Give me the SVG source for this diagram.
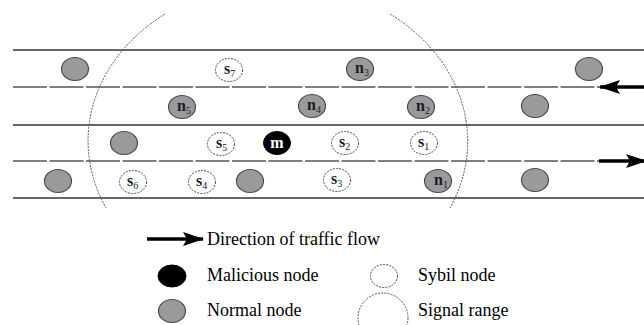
<svg xmlns="http://www.w3.org/2000/svg" width="644" height="325" viewBox="0 0 644 325">
<style>
.solid{stroke:#333;stroke-width:1.3;fill:none}
.dash{stroke:#555;stroke-width:1.3;fill:none;stroke-dasharray:34 2.5}
.normal{fill:#9a9a9a;stroke:#4a4a4a;stroke-width:1.2}
.mal{fill:#000;stroke:#000;stroke-width:1}
.sybil{fill:#fff;stroke:#444;stroke-width:1;stroke-dasharray:2 1.2}
.range{fill:none;stroke:#555;stroke-width:1;stroke-dasharray:2 1.2}
.lbl{font-family:"Liberation Serif",serif;font-size:16px;font-weight:bold;fill:#1a1a2a}
.sub{font-size:10px;font-weight:normal}
.ml{font-family:"Liberation Serif",serif;font-size:16px;font-weight:bold;fill:#fff}
.leg{font-family:"Liberation Serif",serif;font-size:18px;fill:#000}
.arrow{stroke:#000;stroke-width:3.5;fill:none}
</style>
<defs>
<marker id="ah" markerUnits="userSpaceOnUse" markerWidth="22" markerHeight="14" refX="20" refY="7" orient="auto">
<polygon points="0,0 21,7 0,14 4,7" fill="#000"/>
</marker>
</defs>
<g id="roads">
<line class="solid" x1="13" y1="50" x2="644" y2="50"/>
<line class="dash" x1="13" y1="87" x2="644" y2="87"/>
<line class="solid" x1="13" y1="125" x2="644" y2="125"/>
<line class="dash" x1="13" y1="161" x2="644" y2="161"/>
<line class="solid" x1="13" y1="198" x2="644" y2="198"/>
</g>
<g id="signal-range">
<path class="range" d="M165,14 A190,158 0 0 0 106,208"/>
<path class="range" d="M390,14 A190,158 0 0 1 450,208"/>
</g>
<g id="connectors">
<line class="arrow" x1="644" y1="87" x2="600" y2="87" marker-end="url(#ah)"/>
<line class="arrow" x1="599" y1="161" x2="646" y2="161" marker-end="url(#ah)"/>
<line class="arrow" x1="147" y1="239" x2="203" y2="239" marker-end="url(#ah)"/>
</g>
<g id="g1"><ellipse class="normal" cx="75" cy="69" rx="13.5" ry="11.5"/></g>
<g id="s7"><ellipse class="sybil" cx="229" cy="70" rx="13.5" ry="11.5"/><text class="lbl" x="224" y="74">s<tspan class="sub" dy="3">7</tspan></text></g>
<g id="n3"><ellipse class="normal" cx="360" cy="69" rx="13.5" ry="11.5"/><text class="lbl" x="355" y="73">n<tspan class="sub" dy="3">3</tspan></text></g>
<g id="g2"><ellipse class="normal" cx="589" cy="69" rx="13.5" ry="11.5"/></g>
<g id="n5"><ellipse class="normal" cx="182" cy="107" rx="13.5" ry="11.5"/><text class="lbl" x="177" y="111">n<tspan class="sub" dy="3">5</tspan></text></g>
<g id="n4"><ellipse class="normal" cx="312" cy="106" rx="13.5" ry="11.5"/><text class="lbl" x="307" y="110">n<tspan class="sub" dy="3">4</tspan></text></g>
<g id="n2"><ellipse class="normal" cx="421" cy="107" rx="13.5" ry="11.5"/><text class="lbl" x="416" y="111">n<tspan class="sub" dy="3">2</tspan></text></g>
<g id="g3"><ellipse class="normal" cx="535" cy="106" rx="13.5" ry="11.5"/></g>
<g id="g4"><ellipse class="normal" cx="124" cy="143" rx="13.5" ry="11.5"/></g>
<g id="s5"><ellipse class="sybil" cx="221" cy="144" rx="13.5" ry="11.5"/><text class="lbl" x="216" y="148">s<tspan class="sub" dy="3">5</tspan></text></g>
<g id="m"><ellipse class="mal" cx="277" cy="143" rx="13.5" ry="11.5"/><text class="ml" x="277" y="148" text-anchor="middle">m</text></g>
<g id="s2"><ellipse class="sybil" cx="345" cy="143" rx="13.5" ry="11.5"/><text class="lbl" x="339" y="147">s<tspan class="sub" dy="3">2</tspan></text></g>
<g id="s1"><ellipse class="sybil" cx="424" cy="143" rx="13.5" ry="11.5"/><text class="lbl" x="418" y="147">s<tspan class="sub" dy="3">1</tspan></text></g>
<g id="g5"><ellipse class="normal" cx="58" cy="181" rx="13.5" ry="11.5"/></g>
<g id="s6"><ellipse class="sybil" cx="133" cy="182" rx="13.5" ry="11.5"/><text class="lbl" x="127" y="186">s<tspan class="sub" dy="3">6</tspan></text></g>
<g id="s4"><ellipse class="sybil" cx="202" cy="182" rx="13.5" ry="11.5"/><text class="lbl" x="196" y="186">s<tspan class="sub" dy="3">4</tspan></text></g>
<g id="g6"><ellipse class="normal" cx="250" cy="181" rx="13.5" ry="11.5"/></g>
<g id="s3"><ellipse class="sybil" cx="337" cy="180" rx="13.5" ry="11.5"/><text class="lbl" x="331" y="184">s<tspan class="sub" dy="3">3</tspan></text></g>
<g id="n1"><ellipse class="normal" cx="438" cy="181" rx="13.5" ry="11.5"/><text class="lbl" x="434" y="185">n<tspan class="sub" dy="3">1</tspan></text></g>
<g id="g7"><ellipse class="normal" cx="535" cy="180" rx="13.5" ry="11.5"/></g>
<g id="legend">
<text class="leg" x="207" y="245">Direction of traffic flow</text>
<ellipse class="mal" cx="172" cy="276" rx="14" ry="11"/>
<text class="leg" x="207" y="281">Malicious node</text>
<ellipse class="normal" cx="172" cy="311" rx="13.5" ry="11.5"/>
<text class="leg" x="207" y="316">Normal node</text>
<ellipse class="sybil" cx="384" cy="276" rx="13.5" ry="11.5"/>
<text class="leg" x="418" y="281">Sybil node</text>
<circle class="range" cx="383" cy="318" r="25"/>
<text class="leg" x="418" y="316">Signal range</text>
</g>
</svg>
